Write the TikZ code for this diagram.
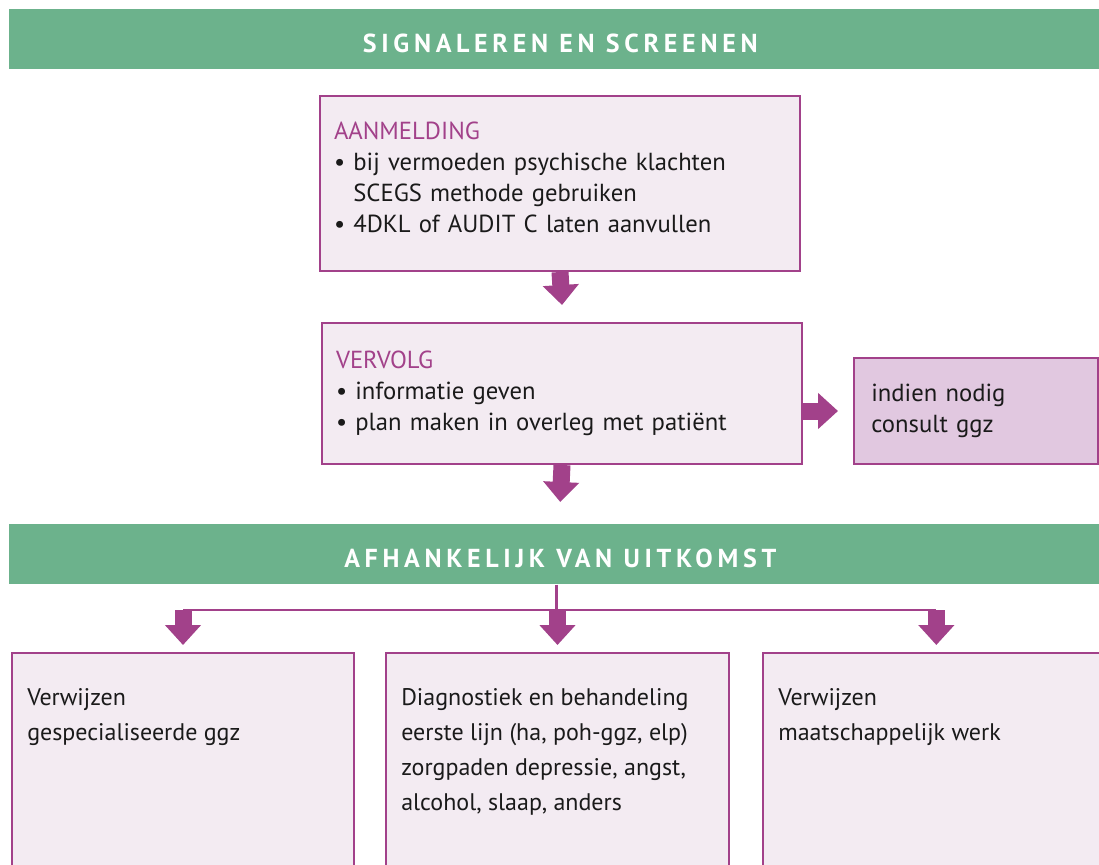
\documentclass[tikz,border=0pt]{standalone}
\usepackage{fontspec}
\setmainfont{PT Sans}
\usetikzlibrary{positioning,arrows.meta}
\definecolor{balk}{RGB}{108,178,140}
\definecolor{paars}{RGB}{162,65,138}
\definecolor{vak}{RGB}{243,235,242}
\definecolor{vakdonker}{RGB}{225,200,224}
\definecolor{tekst}{RGB}{26,26,26}
\tikzstyle{every vak} = [draw=paars, line width=1.5pt, fill=vak, rectangle]
\tikzstyle{stap} = [every vak, anchor=north west, align=left, inner xsep=10.5pt, text=tekst,
    font=\fontsize{18.5}{23.25}\selectfont]
\tikzstyle{uitkomst} = [every vak, anchor=north west, minimum height=195pt]
\tikzstyle{kop} = [fill=balk, anchor=north west, minimum width=826.5pt, minimum height=45pt,
    text=white, text height=20.5pt, text depth=0pt,
    font=\fontsize{19.5}{20}\selectfont\bfseries\addfontfeature{LetterSpace=18}]
\tikzstyle{pijl} = [draw=paars, line width=12.75pt, -{Triangle[length=15pt,width=26.25pt]}, paars]
\tikzstyle{lijn} = [draw=paars, line width=2.2pt]
\newcommand{\titel}[1]{{\color{paars}#1}}
\newcommand{\punt}{\textbullet\ }

\begin{document}
\begin{tikzpicture}[x=0.75pt, y=-0.75pt]
    \clip (0,0) rectangle (1099,864);
    \fill[white] (0,0) rectangle (1099,864);

    \node[kop] (balk1) at (9,9) {SIGNALEREN EN SCREENEN};

    \node[stap, minimum width=360pt, minimum height=131.25pt, text width=339pt] (aanmelding) at (319,95)
        {\titel{AANMELDING}\\
         \punt bij vermoeden psychische klachten\\
         \phantom{\punt}SCEGS methode gebruiken\\
         \punt 4DKL of AUDIT C laten aanvullen\\[-14.25pt]\mbox{}};

    \node[stap, minimum width=360pt, minimum height=105.75pt, text width=339pt] (vervolg) at (321,322)
        {\titel{VERVOLG}\\
         \punt informatie geven\\
         \punt plan maken in overleg met patiënt};

    \node[stap, fill=vakdonker, minimum width=183pt, minimum height=79.5pt, text width=157pt,
          inner xsep=12.75pt] (indien) at (853,357)
        {indien nodig\\consult ggz};

    \node[kop] (balk2) at (9,524) {AFHANKELIJK VAN UITKOMST};

    \node[uitkomst, minimum width=256.5pt] (verw1) at (11,652) {};
    \node[uitkomst, minimum width=257.25pt] (diag) at (385,652) {};
    \node[uitkomst, minimum width=260pt] (maatsch) at (762,652) {};

    \foreach \n/\t in {verw1/{Verwijzen\\gespecialiseerde ggz},
                       diag/{Diagnostiek en behandeling\\eerste lijn (ha, poh-ggz, elp)\\zorgpaden depressie, angst,\\alcohol, slaap, anders},
                       maatsch/{Verwijzen\\maatschappelijk werk}}
        \node[anchor=north west, inner sep=0pt, align=left, text=tekst,
              font=\fontsize{18}{26.25}\selectfont] (\n-tekst)
              at ([xshift=12pt, yshift=-27pt]\n.north west) {\t};

    \draw[pijl] (aanmelding.south) -- ([yshift=12.75pt]vervolg.north);
    \draw[pijl] (vervolg.south) -- ([yshift=16.5pt]balk2.north);
    \draw[pijl] (vervolg.east |- indien.west) -- ([xshift=-11.25pt]indien.west);

    \coordinate (tak) at (556.5,610);
    \draw[lijn] (balk2.south -| tak) -- (tak);
    \draw[lijn] (verw1.north |- tak) -- (maatsch.north |- tak);
    \foreach \n in {verw1,diag,maatsch}
        \draw[pijl] (\n.north |- tak) -- ([yshift=5.25pt]\n.north);
\end{tikzpicture}
\end{document}
